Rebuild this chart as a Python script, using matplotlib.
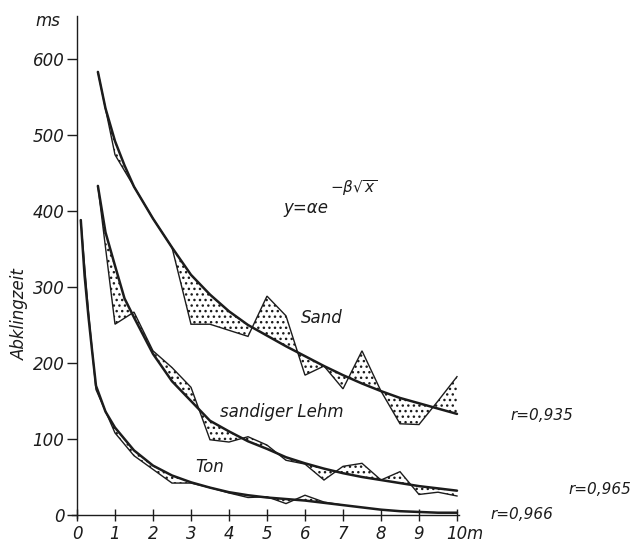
import numpy as np
import matplotlib
matplotlib.use("Agg")
import matplotlib.pyplot as plt
from matplotlib.patches import Polygon

# ---------------- data ----------------
# Sand: measured points and fitted curve
sand_x = [0.55, 1.0, 1.5, 2.0, 2.5, 3.0, 3.5, 4.0, 4.5, 5.0, 5.5, 6.0, 6.5, 7.0, 7.5, 8.0, 8.5, 9.0, 9.5, 10.0]
sand_y = [583, 474, 432, 390, 352, 251, 251, 243, 235, 288, 262, 184, 196, 166, 216, 163, 120, 119, 150, 182]
sand_cx = [0.55, 0.75, 1.0, 1.25, 1.5, 2.0, 2.5, 3.0, 3.5, 4.0, 4.5, 5.0, 5.5, 6.0, 6.5, 7.0, 7.5, 8.0, 8.5, 9.0, 9.5, 10.0]
sand_cy = [583, 535, 492, 460, 432, 390, 352, 316, 290, 268, 250, 236, 222, 209, 196, 184, 173, 163, 154, 147, 140, 133]

# sandiger Lehm
lehm_x = [0.55, 1.0, 1.5, 2.0, 2.5, 3.0, 3.5, 4.0, 4.5, 5.0, 5.5, 6.0, 6.5, 7.0, 7.5, 8.0, 8.5, 9.0, 9.5, 10.0]
lehm_y = [433, 251, 267, 216, 194, 168, 99, 96, 103, 92, 72, 67, 46, 64, 68, 46, 57, 27, 30, 25]
lehm_cx = [0.55, 0.75, 1.0, 1.25, 1.5, 2.0, 2.5, 3.0, 3.5, 4.0, 4.5, 5.0, 5.5, 6.0, 6.5, 7.0, 7.5, 8.0, 8.5, 9.0, 9.5, 10.0]
lehm_cy = [433, 372, 328, 285, 260, 212, 176, 150, 124, 110, 97, 87, 76, 68, 61, 55, 50, 46, 42, 38, 35, 32]

# Ton
ton_x = [0.1, 0.3, 0.5, 1.0, 1.5, 2.0, 2.5, 3.0, 3.5, 4.0, 4.5, 5.0, 5.5, 6.0, 6.5, 7.0]
ton_y = [388, 268, 165, 108, 78, 60, 42, 42, 36, 29, 23, 24, 15, 26, 17, 13]
ton_cx = [0.1, 0.2, 0.3, 0.4, 0.5, 0.75, 1.0, 1.25, 1.5, 2.0, 2.5, 3.0, 3.5, 4.0, 4.5, 5.0, 5.5, 6.0, 6.5, 7.0, 7.5, 8.0, 8.5, 9.0, 9.5, 10.0]
ton_cy = [388, 315, 262, 215, 170, 136, 115, 100, 85, 65, 52, 43, 36, 30, 26, 23, 21, 19, 16, 13, 10, 7, 5, 4, 3, 3]

x_ticks = [0, 1, 2, 3, 4, 5, 6, 7, 8, 9, 10]
x_labels = ["0", "1", "2", "3", "4", "5", "6", "7", "8", "9", "10"]
y_ticks = [0, 100, 200, 300, 400, 500, 600]
y_labels = ["0", "100", "200", "300", "400", "500", "600"]

series_names = ["Sand", "sandiger Lehm", "Ton"]
r_values = ["r=0,935", "r=0,965", "r=0,966"]

# ---------------- drawing ----------------
INK = "#1c1c1c"
fig = plt.figure(figsize=(6.34, 5.46), dpi=100)
ax = fig.add_axes([0, 0, 1, 1])
ax.set_xlim(-2.026, 14.658)
ax.set_ylim(-40.8, 677.6)
ax.patch.set_alpha(0)

for s in ["top", "right"]:
    ax.spines[s].set_visible(False)
ax.spines["left"].set_position(("data", 0))
ax.spines["bottom"].set_position(("data", 0))
ax.spines["left"].set_bounds(-4, 657)
ax.spines["bottom"].set_bounds(-0.12, 10.05)
for s in ["left", "bottom"]:
    ax.spines[s].set_color(INK)
    ax.spines[s].set_linewidth(1.0)

ax.set_xticks(x_ticks)
ax.set_xticklabels(x_labels, fontsize=12, style="italic", color=INK)
ax.set_yticks(y_ticks)
ax.set_yticklabels(y_labels, fontsize=12, style="italic", color=INK)
ax.tick_params(axis="x", direction="inout", length=8, width=1.0, color=INK, pad=3)
ax.tick_params(axis="y", direction="out", length=7, width=1.0, color=INK, pad=2)


def draw(mx, my, cx, cy):
    xmax = mx[-1]
    ccx = [a for a in cx if a <= xmax]
    ccy = [b for a, b in zip(cx, cy) if a <= xmax]
    verts = list(zip(mx, my)) + list(zip(ccx[::-1], ccy[::-1]))
    poly = Polygon(verts, closed=True, facecolor="none", edgecolor=INK,
                   linewidth=0, hatch="...")
    ax.add_patch(poly)
    ax.plot(mx, my, color=INK, lw=1.0, solid_joinstyle="miter")
    ax.plot(cx, cy, color=INK, lw=1.8, solid_capstyle="round")


plt.rcParams["hatch.linewidth"] = 1.0
draw(sand_x, sand_y, sand_cx, sand_cy)
draw(lehm_x, lehm_y, lehm_cx, lehm_cy)
draw(ton_x, ton_y, ton_cx, ton_cy)

tkw = dict(fontsize=12, style="italic", color=INK)
ax.text(10.26, -25, "m", ha="left", va="center", **tkw)
ax.text(-0.76, 650, "ms", ha="center", va="center", **tkw)
ax.text(-1.5, 265, "Abklingzeit", rotation=90, ha="center", va="center", **tkw)

ax.text(5.42, 404, "y=\u03b1e", ha="left", va="center", **tkw)
ax.text(6.66, 430, r"$-\beta\sqrt{x}$", ha="left", va="center", fontsize=11, color=INK)

ax.text(6.45, 259, series_names[0], ha="center", va="center", **tkw)
ax.text(5.39, 136, series_names[1], ha="center", va="center", **tkw)
ax.text(3.5, 63, series_names[2], ha="center", va="center", **tkw)

ax.text(12.23, 131, r_values[0], ha="center", va="center", fontsize=11, style="italic", color=INK)
ax.text(13.76, 33, r_values[1], ha="center", va="center", fontsize=11, style="italic", color=INK)
ax.text(11.7, 1, r_values[2], ha="center", va="center", fontsize=11, style="italic", color=INK)

fig.savefig("out.png", dpi=100)
